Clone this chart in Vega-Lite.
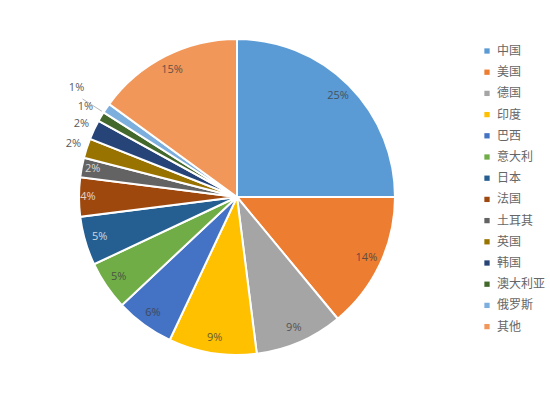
{
  "$schema": "https://vega.github.io/schema/vega-lite/v6.json",
  "width": 474,
  "height": 394,
  "autosize": {"type": "none"},
  "padding": {"left": 0, "top": 0, "right": 76, "bottom": 0},
  "background": "#ffffff",
  "data": {
    "values": [
      {"idx": 1, "country": "中国", "value": 0.25},
      {"idx": 2, "country": "美国", "value": 0.14},
      {"idx": 3, "country": "德国", "value": 0.09},
      {"idx": 4, "country": "印度", "value": 0.09},
      {"idx": 5, "country": "巴西", "value": 0.06},
      {"idx": 6, "country": "意大利", "value": 0.05},
      {"idx": 7, "country": "日本", "value": 0.05},
      {"idx": 8, "country": "法国", "value": 0.04},
      {"idx": 9, "country": "土耳其", "value": 0.02},
      {"idx": 10, "country": "英国", "value": 0.02},
      {"idx": 11, "country": "韩国", "value": 0.02},
      {"idx": 12, "country": "澳大利亚", "value": 0.01},
      {"idx": 13, "country": "俄罗斯", "value": 0.01},
      {"idx": 14, "country": "其他", "value": 0.15}
    ]
  },
  "encoding": {
    "theta": {"field": "value", "type": "quantitative", "stack": true, "scale": {"domain": [0, 1]}},
    "order": {"field": "idx", "type": "quantitative"}
  },
  "layer": [
    {
      "mark": {"type": "arc", "outerRadius": 158, "stroke": "#ffffff", "strokeWidth": 2},
      "encoding": {
        "color": {
          "field": "country",
          "type": "nominal",
          "sort": ["中国","美国","德国","印度","巴西","意大利","日本","法国","土耳其","英国","韩国","澳大利亚","俄罗斯","其他"],
          "scale": {
            "domain": ["中国","美国","德国","印度","巴西","意大利","日本","法国","土耳其","英国","韩国","澳大利亚","俄罗斯","其他"],
            "range": ["#5B9BD5","#ED7D31","#A5A5A5","#FFC000","#4472C4","#70AD47","#255E91","#9E480E","#636363","#997300","#264478","#43682B","#7CAFDD","#F1975A"]
          },
          "legend": {
            "title": null,
            "orient": "none",
            "legendX": 481,
            "legendY": 45,
            "symbolType": "square",
            "symbolSize": 28,
            "symbolStrokeWidth": 0,
            "labelFont": "Noto Sans CJK SC",
            "labelFontSize": 12,
            "labelColor": "#666666",
            "labelOffset": 4,
            "rowPadding": 9.2
          }
        }
      }
    },
    {
      "mark": {
        "type": "arc",
        "innerRadius": 160,
        "outerRadius": 183,
        "fill": null,
        "fillOpacity": 0,
        "stroke": {"expr": "datum.country === '俄罗斯' ? '#a6a6a6' : null"},
        "strokeWidth": {"expr": "datum.country === '俄罗斯' ? 0.8 : 0"},
        "strokeDash": [0, 11.5, 23, 400]
      }
    },
    {
      "mark": {
        "type": "text",
        "font": "Open Sans",
        "fontSize": 11,
        "radius": {"expr": "datum.country === '俄罗斯' ? 194 : datum.country === '澳大利亚' ? 176 : (datum.country === '英国' || datum.country === '韩国') ? 172 : datum.country === '土耳其' ? 147 : datum.country === '法国' ? 149 : 143"},
        "fill": {"expr": "indexof(['日本','法国','土耳其'], datum.country) >= 0 ? '#ffffff' : indexof(['英国','韩国','澳大利亚','俄罗斯'], datum.country) >= 0 ? '#595959' : '#404040'"},
        "opacity": {"expr": "indexof(['日本','法国','土耳其'], datum.country) >= 0 ? 0.75 : indexof(['英国','韩国','澳大利亚','俄罗斯'], datum.country) >= 0 ? 1 : 0.8"}
      },
      "encoding": {
        "text": {"field": "value", "type": "quantitative", "format": ".0%"}
      }
    }
  ],
  "config": {"view": {"stroke": null}}
}
